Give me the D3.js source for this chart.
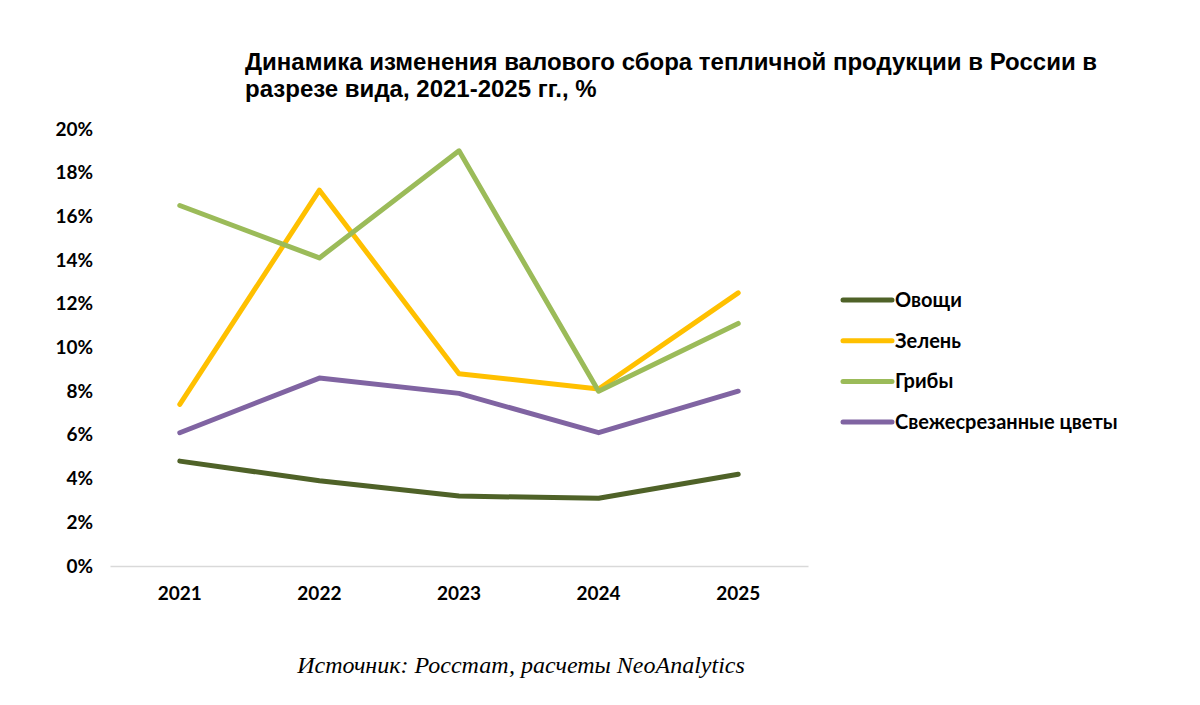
<!DOCTYPE html>
<html>
<head>
<meta charset="utf-8">
<script src="https://cdn.jsdelivr.net/npm/d3@7"></script>
<style>
  body { margin: 0; background: #fff; }
  svg text { fill: #000; }
</style>
</head>
<body>
<div id="chart"></div>
<script>
// data
const years = ['2021', '2022', '2023', '2024', '2025'];
const seriesNames = ['Овощи', 'Зелень', 'Грибы', 'Свежесрезанные цветы'];
const seriesColors = ['#4f6228', '#ffc000', '#9bbb59', '#8064a2'];
const vegetables = [4.8, 3.9, 3.2, 3.1, 4.2];
const greens = [7.4, 17.2, 8.8, 8.1, 12.5];
const mushrooms = [16.5, 14.1, 19.0, 8.0, 11.1];
const flowers = [6.1, 8.6, 7.9, 6.1, 8.0];
const yTicks = [0, 2, 4, 6, 8, 10, 12, 14, 16, 18, 20];
const titleLines = ['Динамика изменения валового сбора тепличной продукции в России в', 'разрезе вида, 2021-2025 гг., %'];
const sourceText = 'Источник: Росстат, расчеты NeoAnalytics';

const W = 1200, H = 705;
const margin = {t:129, r:392, b:139, l:110};
const w = W - margin.l - margin.r;
const h = H - margin.t - margin.b;

const series = seriesNames.map(function(name, i){
	return {name: name, color: seriesColors[i], values: [vegetables, greens, mushrooms, flowers][i]};
});

const svg = d3.select('#chart')
	.append('svg')
	.attr('width', W).attr('height', H);

// title
svg.append('g')
	.selectAll('text')
	.data(titleLines)
	.enter()
	.append('text')
	.attr('x', 245)
	.attr('y', function(d, i){ return 70 + i * 27 })
	.style('font-family', '"Liberation Sans Narrow", "Arial Narrow", "Liberation Sans", sans-serif')
	.style('font-weight', 'bold')
	.style('font-size', '24px')
	.text(function(d){ return d });

const scaleX = d3.scaleBand().domain(years).range([0, w]);
const scaleY = d3.scaleLinear().domain([0, 20]).range([h, 0]);

const plot = svg.append('g')
	.attr('transform', `translate(${margin.l}, ${margin.t})`);

// axes
const axisX = d3.axisBottom(scaleX).tickSize(0).tickPadding(21);
const axisY = d3.axisLeft(scaleY).tickValues(yTicks).tickSize(0).tickPadding(17)
	.tickFormat(function(d){ return d + '%' });

plot.append('g')
	.attr('class', 'axis axis-x')
	.attr('transform', `translate(0, ${h})`)
	.call(axisX)
	.call(function(g){ g.select('.domain').style('stroke', '#d9d9d9').style('stroke-width', 1.5) });

plot.append('g')
	.attr('class', 'axis axis-y')
	.call(axisY)
	.call(function(g){ g.select('.domain').remove() });

plot.selectAll('.axis text')
	.style('font-family', 'Lato, "Open Sans", sans-serif')
	.style('font-weight', 'bold')
	.style('font-size', '19px')
	.style('fill', '#000');

// lines
const line = d3.line()
	.x(function(d, i){ return scaleX(years[i]) + scaleX.bandwidth() / 2 })
	.y(function(d){ return scaleY(d) });

plot.selectAll('.line')
	.data(series)
	.enter()
	.append('path')
	.attr('class', 'line')
	.attr('d', function(d){ return line(d.values) })
	.style('fill', 'none')
	.style('stroke', function(d){ return d.color })
	.style('stroke-width', 5)
	.style('stroke-linecap', 'round')
	.style('stroke-linejoin', 'round');

// legend
const legend = svg.append('g')
	.attr('transform', 'translate(843, 300)')
	.selectAll('g')
	.data(series)
	.enter()
	.append('g')
	.attr('transform', function(d, i){ return `translate(0, ${i * 40.7})` });

legend.append('line')
	.attr('x1', 0).attr('x2', 49)
	.style('stroke', function(d){ return d.color })
	.style('stroke-width', 5)
	.style('stroke-linecap', 'round');

legend.append('text')
	.attr('x', 52)
	.attr('y', 7)
	.style('font-family', 'Lato, "Open Sans", sans-serif')
	.style('font-weight', 'bold')
	.style('font-size', '20px')
	.text(function(d){ return d.name });

// source
svg.append('text')
	.attr('x', 521)
	.attr('y', 673)
	.attr('text-anchor', 'middle')
	.style('font-family', '"Liberation Serif", "Times New Roman", serif')
	.style('font-style', 'italic')
	.style('font-size', '24px')
	.text(sourceText);
</script>
</body>
</html>
